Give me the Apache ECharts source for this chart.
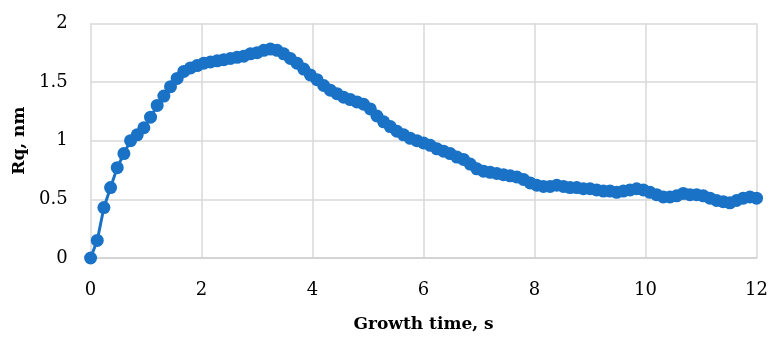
<!DOCTYPE html>
<html><head><meta charset="utf-8">
<script src="https://cdn.jsdelivr.net/npm/echarts@6/dist/echarts.min.js"></script>
<style>html,body{margin:0;padding:0;background:#fff}#c{width:771px;height:338px}</style>
</head><body><div id="c"></div>
<script>
const timeStep = 0.12;
const rqValues = [0.00,0.15,0.43,0.60,0.77,0.89,1.00,1.05,1.11,1.20,
1.30,1.38,1.46,1.53,1.59,1.62,1.64,1.66,1.67,1.68,
1.69,1.70,1.71,1.72,1.74,1.75,1.77,1.78,1.77,1.74,
1.70,1.66,1.61,1.56,1.52,1.47,1.43,1.40,1.37,1.35,
1.33,1.31,1.27,1.21,1.16,1.12,1.08,1.05,1.02,1.00,
0.98,0.96,0.93,0.91,0.89,0.86,0.84,0.80,0.76,0.74,
0.73,0.72,0.71,0.70,0.69,0.67,0.64,0.62,0.61,0.61,
0.62,0.61,0.60,0.60,0.59,0.59,0.58,0.57,0.57,0.56,
0.57,0.58,0.59,0.58,0.56,0.54,0.52,0.52,0.53,0.55,
0.54,0.54,0.53,0.51,0.49,0.48,0.47,0.49,0.51,0.52,0.51];
const xTicks = [0,2,4,6,8,10,12];
const yTicks = [0,0.5,1,1.5,2];
const xName = 'Growth time, s';
const yName = 'Rq, nm';

const data = rqValues.map((v,i)=>[+(i*timeStep).toFixed(2), v]);
const font = 'DejaVu Serif';
const chart = echarts.init(document.getElementById('c'), null, {renderer:'canvas'});
chart.setOption({
  animation:false,
  grid:{left:90.6, right:11.7, top:23.3, bottom:77.3, containLabel:false},
  xAxis:{type:'value', min:xTicks[0], max:xTicks[xTicks.length-1], interval:2,
    name:xName, nameLocation:'middle', nameGap:58,
    nameTextStyle:{fontFamily:font, fontSize:17, fontWeight:'bold', color:'#000'},
    axisLine:{show:true, lineStyle:{color:'#d0d0d0', width:1.5}},
    axisTick:{show:false},
    axisLabel:{fontFamily:font, fontSize:18, color:'#000', margin:23},
    splitLine:{show:true, lineStyle:{color:'#d9d9d9', width:1.5}}},
  yAxis:{type:'value', min:yTicks[0], max:yTicks[yTicks.length-1], interval:0.5,
    name:yName, nameLocation:'middle', nameGap:60, nameRotate:90,
    nameTextStyle:{fontFamily:font, fontSize:17, fontWeight:'bold', color:'#000'},
    axisLine:{show:false}, axisTick:{show:false},
    axisLabel:{fontFamily:font, fontSize:18, color:'#000', margin:23,
      formatter:v=>String(v)},
    splitLine:{show:true, lineStyle:{color:'#d9d9d9', width:1.5}}},
  series:[{type:'line', data:data, symbol:'circle', symbolSize:13,
    showAllSymbol:true,
    lineStyle:{color:'#1a72c6', width:3},
    itemStyle:{color:'#1a72c6'}, clip:false}]
});
</script></body></html>
